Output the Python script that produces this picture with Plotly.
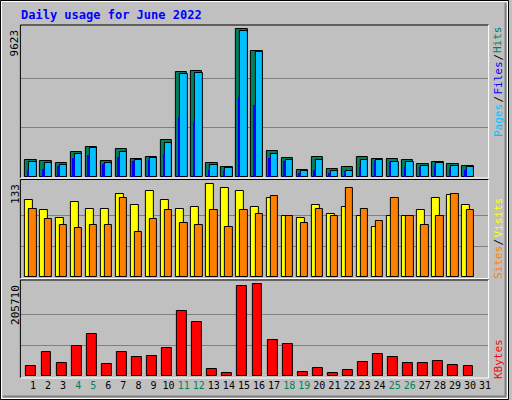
import plotly.graph_objects as go

# daily values
days = list(range(1, 31))
hits = [1132, 1023, 936, 1611, 1938, 1023, 1807, 1154, 1284, 2395, 6836, 6901, 936, 631, 9623,
        8207, 1676, 1219, 435, 1284, 501, 631, 1284, 1154, 1154, 1089, 827, 958, 827, 697]
pages = [1001, 893, 806, 1480, 1872, 893, 1611, 1089, 1219, 2199, 6705, 6770, 762, 566, 9492,
         8120, 1524, 1089, 370, 1089, 414, 370, 1089, 1089, 958, 958, 697, 893, 697, 631]
files = [435, 501, 697, 1219, 1415, 871, 1284, 1023, 1089, 1480, 3897, 3570, 501, 370, 5203,
         4681, 1219, 1023, 261, 435, 261, 370, 631, 1023, 958, 631, 631, 697, 501, 435]
visits = [111, 96, 85, 108, 98, 98, 119, 104, 124, 111, 98, 100, 133, 127, 123,
          100, 113, 87, 85, 104, 91, 101, 87, 72, 88, 88, 96, 114, 117, 103]
sites = [98, 83, 75, 71, 75, 75, 113, 65, 83, 96, 78, 75, 96, 72, 96,
         90, 116, 88, 78, 98, 87, 127, 98, 80, 113, 88, 74, 88, 119, 96]
kbytes = [23188, 54604, 29920, 68068, 95000, 27676, 54604, 43384, 45628, 63580, 144364, 119680,
          16456, 7480, 200464, 205710, 81532, 72556, 9724, 18700, 7480, 14212, 32164, 50116,
          43384, 29920, 29920, 34408, 25432, 23188]
weekends = [4, 5, 11, 12, 18, 19, 25, 26]
max_hits, max_visits, max_kb = 9623, 133, 205710

W, H = 512, 400
def px(x): return x / W
def py(y): return 1 - y / H

BG = '#C0C0C0'
mono = 'DejaVu Sans Mono'
line = dict(color='black', width=1)

fig = go.Figure()
fig.add_trace(go.Bar(x=days, y=hits, name='Hits', marker=dict(color='#00805C', line=line),
                     offset=-0.51, width=0.75, xaxis='x', yaxis='y'))
fig.add_trace(go.Bar(x=days, y=pages, name='Pages', marker=dict(color='#00C0FF', line=line),
                     offset=-0.24, width=0.49, xaxis='x', yaxis='y'))
fig.add_trace(go.Bar(x=days, y=files, name='Files', marker=dict(color='#0000FF', line=dict(width=0)),
                     offset=-0.37, width=0.13, xaxis='x', yaxis='y'))
fig.add_trace(go.Bar(x=days, y=visits, name='Visits', marker=dict(color='#FFFF00', line=line),
                     offset=-0.51, width=0.53, xaxis='x2', yaxis='y2'))
fig.add_trace(go.Bar(x=days, y=sites, name='Sites', marker=dict(color='#FF8000', line=line),
                     offset=-0.24, width=0.49, xaxis='x2', yaxis='y2'))
fig.add_trace(go.Bar(x=days, y=kbytes, name='KBytes', marker=dict(color='#FF0000', line=line),
                     offset=-0.44, width=0.66, xaxis='x3', yaxis='y3'))

all_days = list(range(1, 32))
tick_text = [f"<span style='color:#00805C'>{d}</span>" if d in weekends else str(d) for d in all_days]

xcommon = dict(range=[0.2, 31.2], domain=[px(21), px(491)], showgrid=False, zeroline=False)
fig.update_layout(
    xaxis=dict(**xcommon, anchor='y', showticklabels=False),
    xaxis2=dict(**xcommon, anchor='y2', showticklabels=False),
    xaxis3=dict(**xcommon, anchor='y3', tickvals=all_days, ticktext=tick_text, ticks='',
                tickangle=0, ticklabelstandoff=2,
                tickfont=dict(family=mono, size=10, color='black')),
)

def yax(domain_px, top_val, top_px, anchor):
    base = domain_px[1]
    rng = top_val * (base - domain_px[0]) / (base - top_px)
    return dict(domain=[py(domain_px[1]), py(domain_px[0])], range=[0, rng], anchor=anchor,
                tickvals=[top_val / 3, 2 * top_val / 3], showticklabels=False,
                gridcolor='#808080', gridwidth=1, zeroline=False)

fig.update_layout(
    yaxis=yax((25, 177), max_hits, 29.3, 'x'),
    yaxis2=yax((180, 277), max_visits, 184.3, 'x2'),
    yaxis3=yax((281, 376), max_kb, 284, 'x3'),
)

shapes = [
    dict(type='rect', xref='paper', yref='paper', x0=px(0.5), x1=px(511.5), y0=py(399.5), y1=py(0.5),
         line=dict(color='black', width=1)),
    dict(type='rect', xref='paper', yref='paper', x0=px(1.5), x1=px(510.5), y0=py(398.5), y1=py(1.5),
         line=dict(color='white', width=1)),
    dict(type='line', xref='paper', yref='paper', x0=px(3), x1=px(509), y0=py(396.5), y1=py(396.5),
         line=dict(color='#808080', width=2)),
    dict(type='line', xref='paper', yref='paper', x0=px(508.5), x1=px(508.5), y0=py(396.5), y1=py(3),
         line=dict(color='#808080', width=2)),
]
for top, bot in [(25, 178), (179.5, 278.5), (280, 378)]:
    shapes.append(dict(type='line', xref='paper', yref='paper', x0=px(20.5), x1=px(491.5),
                       y0=py(top), y1=py(top), line=dict(color='black', width=1)))
    shapes.append(dict(type='line', xref='paper', yref='paper', x0=px(20.5), x1=px(20.5),
                       y0=py(bot), y1=py(top), line=dict(color='black', width=1)))
    shapes.append(dict(type='line', xref='paper', yref='paper', x0=px(20.5), x1=px(491.5),
                       y0=py(bot), y1=py(bot), line=dict(color='white', width=1)))
    shapes.append(dict(type='line', xref='paper', yref='paper', x0=px(491.5), x1=px(491.5),
                       y0=py(bot), y1=py(top), line=dict(color='white', width=1)))

annotations = [
    dict(text='<b>Daily usage for June 2022</b>', x=px(19), y=py(15), xanchor='left', yanchor='middle',
         font=dict(family=mono, size=12, color='#0000FF')),
    dict(text='9623', x=px(15), y=py(27), textangle=-90, yanchor='top', xanchor='center',
         font=dict(family=mono, size=11, color='black')),
    dict(text='133', x=px(15), y=py(182), textangle=-90, yanchor='top', xanchor='center',
         font=dict(family=mono, size=11, color='black')),
    dict(text='205710', x=px(15), y=py(283), textangle=-90, yanchor='top', xanchor='center',
         font=dict(family=mono, size=11, color='black')),
]
# right-hand rotated legend labels, (text, colour, top px, bottom px)
right_labels = [('Hits', '#00805C', 28, 52), ('/', 'black', 53, 62), ('Files', '#0000FF', 63, 94),
                ('/', 'black', 95, 104), ('Pages', '#00C0FF', 105, 137),
                ('Visits', '#FFFF00', 198, 237), ('/', 'black', 238, 247), ('Sites', '#FF8000', 248, 278),
                ('KBytes', '#FF0000', 340, 378)]
for txt, col, t, b in right_labels:
    annotations.append(dict(text=txt, x=px(501), y=py((t + b) / 2), textangle=-90,
                            xanchor='center', yanchor='middle',
                            font=dict(family=mono, size=11, color=col)))
for a in annotations:
    a.update(xref='paper', yref='paper', showarrow=False)

fig.update_layout(width=W, height=H, margin=dict(l=0, r=0, t=0, b=0),
                  paper_bgcolor=BG, plot_bgcolor=BG, showlegend=False,
                  barmode='overlay', bargap=0, shapes=shapes, annotations=annotations)
fig.write_html("out.html", config=dict(displayModeBar=False),
               post_script="document.body.style.margin='0';document.body.style.overflow='hidden';")
